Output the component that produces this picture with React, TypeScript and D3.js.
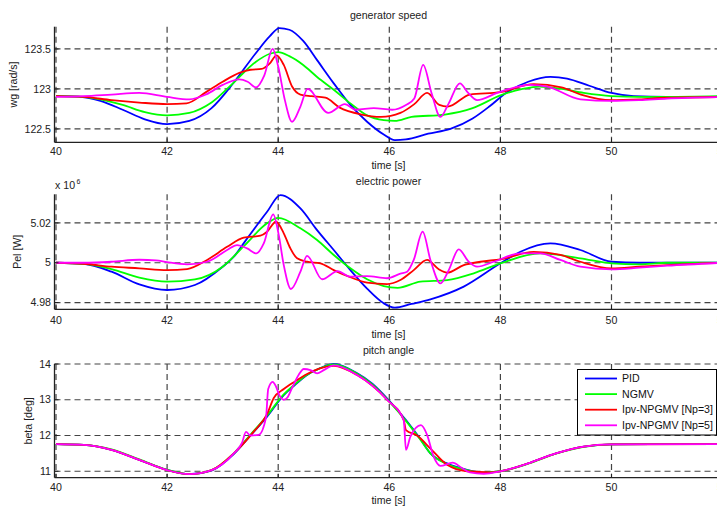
import React from "react";
import * as d3 from "d3";

type Pt = [number, number];

// ---------- data ----------
const xTicks = [40, 42, 44, 46, 48, 50, 52];
const legendNames = ["PID", "NGMV", "Ipv-NPGMV [Np=3]", "Ipv-NPGMV [Np=5]"];
const seriesColors = ["#0000ff", "#00ff00", "#ff0000", "#ff00ff"];

// generator speed wg [rad/s]
const speedPID: Pt[] = [[40,122.91],[40.4,122.905],[40.8,122.85],[41.2,122.74],[41.6,122.62],[42,122.56],[42.4,122.6],[42.8,122.76],[43.2,123.08],[43.6,123.45],[43.85,123.66],[44.02,123.76],[44.2,123.74],[44.45,123.6],[44.7,123.36],[45,123.07],[45.3,122.8],[45.6,122.59],[45.9,122.43],[46.1,122.36],[46.3,122.37],[46.7,122.44],[47.1,122.5],[47.5,122.63],[47.8,122.78],[48.1,122.95],[48.5,123.09],[48.9,123.15],[49.2,123.13],[49.6,123.04],[50,122.95],[50.4,122.91],[51,122.9],[52,122.9]];
const speedNGMV: Pt[] = [[40,122.91],[40.4,122.905],[40.8,122.87],[41.2,122.8],[41.6,122.71],[42,122.67],[42.4,122.7],[42.8,122.83],[43.2,123.08],[43.6,123.34],[43.85,123.44],[44,123.46],[44.2,123.41],[44.45,123.3],[44.7,123.15],[45,122.99],[45.3,122.82],[45.6,122.67],[45.9,122.61],[46.1,122.6],[46.4,122.65],[47,122.68],[47.5,122.76],[48,122.92],[48.4,123.0],[48.7,123.03],[49.1,123.0],[49.5,122.95],[50,122.91],[50.5,122.9],[51,122.9],[52,122.91]];
const speedNp3: Pt[] = [[40,122.91],[40.5,122.9],[41,122.86],[41.5,122.83],[42,122.81],[42.35,122.82],[42.7,122.96],[43,123.09],[43.3,123.2],[43.5,123.24],[43.7,123.25],[43.85,123.32],[43.97,123.42],[44.1,123.3],[44.25,123.03],[44.4,122.93],[44.6,122.91],[44.85,122.89],[45.1,122.77],[45.5,122.68],[45.85,122.65],[46.2,122.7],[46.45,122.81],[46.68,122.95],[46.9,122.8],[47.05,122.78],[47.45,122.93],[48,122.96],[48.6,123.06],[49.1,123.02],[49.45,122.93],[50,122.86],[50.5,122.87],[51,122.89],[52,122.9]];
const speedNp5: Pt[] = [[40,122.9],[40.5,122.91],[41,122.93],[41.5,122.95],[42,122.9],[42.4,122.87],[42.7,122.93],[43,123.05],[43.3,123.12],[43.45,123.09],[43.6,123.02],[43.75,123.17],[43.9,123.5],[44,123.28],[44.12,122.86],[44.25,122.59],[44.4,122.78],[44.53,123.0],[44.9,122.7],[45.2,122.81],[45.4,122.74],[45.72,122.76],[46.05,122.74],[46.3,122.8],[46.45,122.88],[46.61,123.3],[46.76,122.95],[46.92,122.65],[47.07,122.82],[47.27,123.07],[47.42,122.95],[47.58,122.86],[47.94,122.95],[48.54,123.05],[48.84,123.03],[49.44,122.87],[50,122.85],[50.5,122.86],[51,122.88],[52,122.9]];

// electric power Pel [W] (x 10^6)
const powerPID: Pt[] = [[40,5.0],[40.5,4.9995],[41,4.9955],[41.5,4.9891],[42,4.9863],[42.5,4.9888],[43,4.998],[43.2,5.003],[43.4,5.0106],[43.8,5.0256],[44.04,5.034],[44.4,5.0273],[44.7,5.0164],[45,5.0064],[45.3,4.9963],[45.6,4.987],[45.9,4.9796],[46.1,4.9774],[46.4,4.9793],[46.74,4.9816],[47.34,4.988],[48,4.9997],[48.36,5.0055],[48.9,5.0097],[49.44,5.0064],[50,5.0005],[50.5,5.0],[52,5.0]];
const powerNGMV: Pt[] = [[40,5.0],[40.5,4.9995],[41,4.9968],[41.5,4.9925],[42,4.9905],[42.5,4.9916],[43,4.998],[43.4,5.0089],[43.8,5.0198],[44,5.0226],[44.4,5.0173],[44.7,5.0114],[45,5.0039],[45.3,4.9972],[45.6,4.9917],[45.9,4.9883],[46.15,4.9874],[46.56,4.9905],[47.04,4.9913],[47.52,4.9947],[48,4.9997],[48.72,5.0047],[49.44,5.0022],[50,4.9997],[50.5,4.9992],[51,5.0],[52,5.0]];
const powerNp3: Pt[] = [[40,5.0],[40.5,4.9995],[41,4.998],[41.5,4.9972],[42,4.9963],[42.36,4.9968],[42.72,5.0014],[43.08,5.008],[43.38,5.0126],[43.68,5.0136],[43.8,5.0156],[43.96,5.0206],[44.1,5.0148],[44.22,5.0072],[44.34,5.0022],[44.52,5.0005],[44.76,4.9997],[45,4.9963],[45.3,4.9927],[45.6,4.99],[45.96,4.9893],[46.2,4.9913],[46.44,4.9963],[46.68,5.0014],[46.89,4.9967],[47.04,4.995],[47.34,4.9988],[47.64,5.0005],[48,5.0017],[48.6,5.0055],[49.08,5.0039],[49.44,5.0005],[50,4.9972],[50.5,4.998],[51,4.9988],[52,5.0]];
const powerNp5: Pt[] = [[40,5.0],[40.5,5.0],[41,5.0005],[41.5,5.0015],[41.8,5.0012],[42,5.0003],[42.36,4.9992],[42.72,5.0005],[43.08,5.0064],[43.26,5.0089],[43.44,5.0072],[43.61,5.0047],[43.74,5.0097],[43.91,5.0243],[44.01,5.0139],[44.1,4.9988],[44.23,4.9868],[44.4,4.9955],[44.52,5.0035],[44.79,4.9917],[45.07,4.9958],[45.3,4.993],[45.6,4.9933],[45.96,4.9922],[46.2,4.9945],[46.32,4.9955],[46.44,5.0014],[46.6,5.0156],[46.74,5.0014],[46.92,4.9896],[47.07,4.9963],[47.25,5.0067],[47.43,5.0005],[47.58,4.998],[47.88,5.0005],[48.36,5.0047],[48.72,5.0047],[49.08,5.0014],[49.44,4.998],[50,4.9967],[50.5,4.9975],[51,4.9985],[52,5.0]];

// pitch angle beta [deg]
const pitchPID: Pt[] = [[40,11.76],[40.5,11.74],[41,11.6],[41.5,11.32],[42,11.04],[42.4,10.92],[42.8,11.02],[43.2,11.48],[43.5,12.0],[43.8,12.53],[44.1,13.13],[44.3,13.41],[44.5,13.67],[44.75,13.88],[45,14.0],[45.4,13.76],[45.7,13.44],[46,12.97],[46.3,12.43],[46.56,11.9],[46.74,11.5],[47.04,11.22],[47.4,11.04],[47.7,10.96],[48,11.0],[48.5,11.22],[49,11.5],[49.5,11.69],[50,11.75],[51,11.76],[52,11.76]];
const pitchNGMV: Pt[] = [[40,11.76],[40.5,11.74],[41,11.61],[41.5,11.33],[42,11.04],[42.4,10.92],[42.8,11.03],[43.2,11.5],[43.5,12.02],[43.8,12.56],[44.1,13.15],[44.3,13.43],[44.5,13.68],[44.75,13.88],[45,13.99],[45.4,13.75],[45.7,13.42],[46,12.95],[46.3,12.41],[46.56,11.88],[46.74,11.5],[47.04,11.2],[47.4,11.03],[47.7,10.96],[48,11.0],[48.5,11.21],[49,11.49],[49.5,11.68],[50,11.75],[51,11.76],[52,11.76]];
const pitchNp3: Pt[] = [[40,11.76],[40.5,11.74],[41,11.6],[41.5,11.32],[42,11.03],[42.4,10.92],[42.8,11.03],[43.2,11.5],[43.56,12.11],[43.8,12.6],[43.92,13.05],[44.1,13.3],[44.31,13.52],[44.52,13.72],[44.75,13.88],[45,13.95],[45.42,13.69],[45.96,13.0],[46.26,12.43],[46.3,12.15],[46.5,12.0],[46.75,11.62],[47.04,11.18],[47.4,11.0],[47.82,10.97],[48,11.0],[48.5,11.22],[49,11.5],[49.5,11.69],[50,11.75],[52,11.76]];
const pitchNp5: Pt[] = [[40,11.76],[40.5,11.74],[41,11.6],[41.5,11.32],[42,11.03],[42.4,10.92],[42.8,11.03],[43.2,11.5],[43.35,11.8],[43.42,12.1],[43.5,12.0],[43.65,12.02],[43.78,12.5],[43.82,13.3],[43.9,13.5],[43.96,13.37],[44.02,13.13],[44.1,13.0],[44.16,13.05],[44.25,13.33],[44.37,13.7],[44.46,13.86],[44.58,13.83],[44.7,13.74],[44.82,13.83],[45,13.96],[45.42,13.69],[45.96,13.0],[46.26,12.43],[46.3,11.6],[46.38,11.97],[46.57,12.29],[46.68,12.02],[46.8,11.4],[46.92,11.15],[47.14,11.24],[47.3,11.1],[47.45,10.97],[47.7,10.93],[48,11.0],[48.5,11.22],[49,11.5],[49.5,11.69],[50,11.75],[52,11.76]];

const speedTicks = [122.5, 123, 123.5];
const powerTicks = [4.98, 5, 5.02];
const pitchTicks = [11, 12, 13, 14];

// ---------- layout ----------
const W = 717;
const H = 510;
const AX_LEFT = 54.5;
const FS = 10.6;
const FONT = "'Liberation Sans', Arial, Helvetica, sans-serif";

const x = d3.scaleLinear().domain([40, 52]).range([56, 722.6]);

interface Panel {
  title: string;
  ylabel: string;
  ylabelX: number;
  domain: [number, number];
  top: number;
  bottom: number;
  ticks: number[];
  series: Pt[][];
  titleY: number;
  tickY: number;
  xlabelY: number;
  exp?: boolean;
}

const panels: Panel[] = [
  { title: "generator speed", ylabel: "wg [rad/s]", ylabelX: 13, domain: [122.333, 123.778], top: 26.7, bottom: 142.3, ticks: speedTicks, series: [speedPID, speedNGMV, speedNp3, speedNp5], titleY: 18.5, tickY: 154.5, xlabelY: 168.5 },
  { title: "electric power", ylabel: "Pel [W]", ylabelX: 17.5, domain: [4.9766, 5.0344], top: 194.3, bottom: 309.3, ticks: powerTicks, series: [powerPID, powerNGMV, powerNp3, powerNp5], titleY: 184.5, tickY: 323.5, xlabelY: 338, exp: true },
  { title: "pitch angle", ylabel: "beta [deg]", ylabelX: 28, domain: [10.82, 14], top: 364, bottom: 477.7, ticks: pitchTicks, series: [pitchPID, pitchNGMV, pitchNp3, pitchNp5], titleY: 353.5, tickY: 491, xlabelY: 504 },
];

function PanelView({ p }: { p: Panel }) {
  const y = d3.scaleLinear().domain(p.domain).range([p.bottom, p.top]);
  const line = d3
    .line<Pt>()
    .x((d) => x(d[0]))
    .y((d) => y(d[1]))
    .curve(d3.curveMonotoneX);
  const gridStyle = { stroke: "#444", strokeWidth: 1.2, strokeDasharray: "6,4", fill: "none" };
  return (
    <g>
      {xTicks.map((t) => (
        <line key={"vx" + t} x1={x(t)} x2={x(t)} y1={p.top} y2={p.bottom} style={gridStyle} />
      ))}
      {p.ticks.map((t) => (
        <line key={"hy" + t} x1={AX_LEFT} x2={W} y1={y(t)} y2={y(t)} style={gridStyle} />
      ))}
      {p.series.map((s, i) => (
        <path key={"s" + i} d={line(s) || ""} fill="none" stroke={seriesColors[i]} strokeWidth={1.8} strokeLinejoin="round" />
      ))}
      <line x1={AX_LEFT} x2={AX_LEFT} y1={p.top} y2={p.bottom} stroke="#222" strokeWidth={1.3} />
      <line x1={AX_LEFT} x2={W} y1={p.bottom} y2={p.bottom} stroke="#222" strokeWidth={1.3} />
      {p.ticks.map((t) => (
        <line key={"tk" + t} x1={AX_LEFT} x2={AX_LEFT + 4} y1={y(t)} y2={y(t)} stroke="#222" strokeWidth={1} />
      ))}
      {xTicks.map((t) => (
        <line key={"xt" + t} x1={x(t)} x2={x(t)} y1={p.bottom} y2={p.bottom - 4} stroke="#222" strokeWidth={1} />
      ))}
      {p.ticks.map((t) => (
        <text key={"yl" + t} x={51} y={y(t)} dy="0.35em" textAnchor="end" fontSize={FS} fontFamily={FONT} fill="#222">
          {String(t)}
        </text>
      ))}
      {xTicks.map((t) => (
        <text key={"xl" + t} x={x(t)} y={p.tickY} textAnchor="middle" fontSize={FS} fontFamily={FONT} fill="#222">
          {String(t)}
        </text>
      ))}
      <text x={388.5} y={p.titleY} textAnchor="middle" fontSize={FS} fontFamily={FONT} fill="#222">
        {p.title}
      </text>
      <text x={388.5} y={p.xlabelY} textAnchor="middle" fontSize={FS} fontFamily={FONT} fill="#222">
        time [s]
      </text>
      <text
        transform={`translate(${p.ylabelX},${(p.top + p.bottom) / 2}) rotate(-90)`}
        dy="0.35em"
        textAnchor="middle"
        fontSize={FS}
        fontFamily={FONT}
        fill="#222"
      >
        {p.ylabel}
      </text>
      {p.exp && (
        <text x={55} y={189} fontSize={FS} fontFamily={FONT} fill="#222">
          x 10
          <tspan dx={1.5} dy={-5} fontSize={7}>6</tspan>
        </text>
      )}
    </g>
  );
}

function Legend() {
  const x0 = 577.5;
  const y0 = 369.5;
  return (
    <g>
      <rect x={x0} y={y0} width={139} height={65.5} fill="#fff" stroke="#000" strokeWidth={1} />
      {legendNames.map((n, i) => {
        const yy = 378.5 + i * 15.6;
        return (
          <g key={n}>
            <line x1={585} x2={617} y1={yy} y2={yy} stroke={seriesColors[i]} strokeWidth={1.8} />
            <text x={622} y={yy} dy="0.35em" fontSize={FS} fontFamily={FONT} fill="#111">
              {n}
            </text>
          </g>
        );
      })}
    </g>
  );
}

export default function App() {
  return (
    <div style={{ position: "absolute", left: 0, top: 0, width: W, height: H, background: "#fff" }}>
      <svg width={W} height={H} viewBox={`0 0 ${W} ${H}`} style={{ display: "block", overflow: "hidden" }}>
        <rect x={0} y={0} width={W} height={H} fill="#fff" />
        {panels.map((p) => (
          <PanelView key={p.title} p={p} />
        ))}
        <Legend />
      </svg>
    </div>
  );
}
